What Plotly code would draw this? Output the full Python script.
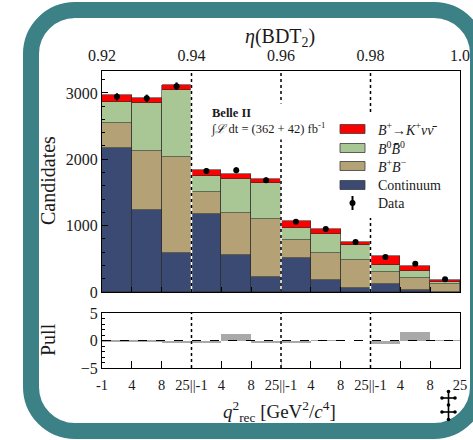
import numpy as np
import plotly.graph_objects as go

# ---------------- data ----------------
bin_edges_labels = ["-1", "4", "8", "25||-1", "4", "8", "25||-1", "4", "8", "25||-1", "4", "8", "25"]
eta_ticks = [0.92, 0.94, 0.96, 0.98, 1.0]
eta_ticktext = ["0.92", "0.94", "0.96", "0.98", "1.0"]

continuum = [2167, 1241, 588, 1181, 553, 226, 517, 176, 55, 120, 30, 3]
bpbm = [386, 886, 1448, 327, 634, 875, 263, 408, 428, 186, 177, 113]
b0b0 = [317, 728, 1011, 242, 513, 539, 190, 296, 226, 101, 110, 39]
signal = [91, 75, 75, 95, 84, 64, 101, 75, 45, 136, 75, 26]
data = [2941, 2920, 3102, 1825, 1835, 1685, 1060, 950, 754, 528, 427, 191]
data_err = [54, 54, 56, 43, 43, 41, 33, 31, 27, 23, 21, 14]
pull = [-0.1, -0.1, -0.5, -0.5, 1.15, -0.4, -0.5, -0.05, 0.0, -0.7, 1.55, 0.05]

n_bins = len(data)
xc = np.arange(n_bins) + 0.5
edges = list(range(n_bins + 1))

C_SIG = "#ff0000"
C_B0 = "#a9c695"
C_BB = "#b4a276"
C_CONT = "#3b4a72"
TEAL = "#3b8186"
EDGE = "rgba(45,45,45,0.75)"

# ---------------- geometry helpers (pixel -> paper) ----------------
W, H = 473, 440
ML, MR, MT, MB = 102, 13, 71, 72
PW, PH = W - ML - MR, H - MT - MB


def px(x):
    return (x - ML) / PW


def py(y):
    return (H - MB - y) / PH


fig = go.Figure()

for name, vals, col in [("Continuum", continuum, C_CONT), ("BB", bpbm, C_BB),
                        ("B0B0", b0b0, C_B0), ("Signal", signal, C_SIG)]:
    fig.add_trace(go.Bar(x=xc, y=vals, width=1.0, marker=dict(color=col, line=dict(color=EDGE, width=0.8)),
                         xaxis="x", yaxis="y", name=name, hoverinfo="skip"))

fig.add_trace(go.Scatter(x=xc, y=data, mode="markers", xaxis="x", yaxis="y",
                         marker=dict(color="black", size=6),
                         error_y=dict(type="data", array=data_err, color="black", thickness=2, width=0),
                         name="Data"))

fig.add_trace(go.Bar(x=xc, y=pull, width=1.0, marker=dict(color="#a9a9a9", line=dict(width=0)),
                     xaxis="x2", yaxis="y2", name="Pull"))

# top eta axis holder (no visible marks)
fig.add_trace(go.Scatter(x=eta_ticks, y=[None] * len(eta_ticks), mode="markers", xaxis="x3", yaxis="y",
                         hoverinfo="skip", showlegend=False))

shapes = []
# dotted separators
for xv in [3, 6, 9]:
    for yr in ["y domain", "y2 domain"]:
        shapes.append(dict(type="line", xref="x", yref=yr, x0=xv, x1=xv, y0=0, y1=1,
                           line=dict(color="white", width=1.5), layer="above"))
        shapes.append(dict(type="line", xref="x", yref=yr, x0=xv, x1=xv, y0=0, y1=1,
                           line=dict(color="black", width=1.5, dash="dot"), layer="above"))
# dashed zero line in pull
shapes.append(dict(type="line", xref="x2", yref="y2", x0=0, x1=n_bins, y0=0, y1=0,
                   line=dict(color="black", width=1, dash="dash"), layer="above"))

# legend background
shapes.append(dict(type="rect", xref="paper", yref="paper", x0=px(338), x1=px(459.5), y0=py(218), y1=py(113),
                   fillcolor="white", line=dict(width=0), layer="above"))
legend_rows = [(129, C_SIG), (148, C_B0), (166, C_BB), (185, C_CONT)]
for yy, col in legend_rows:
    shapes.append(dict(type="rect", xref="paper", yref="paper", x0=px(340), x1=px(365), y0=py(yy + 4.5), y1=py(yy - 4.5),
                       fillcolor=col, line=dict(color="rgba(60,60,60,0.8)", width=1), layer="above"))
shapes.append(dict(type="line", xref="paper", yref="paper", x0=px(352.5), x1=px(352.5), y0=py(210), y1=py(196),
                   line=dict(color="black", width=2), layer="above"))
shapes.append(dict(type="circle", xref="paper", yref="paper", x0=px(349.5), x1=px(355.5), y0=py(206), y1=py(200),
                   fillcolor="black", line=dict(color="black", width=0), layer="above"))

# rounded teal frame
L, T, R, B, r = 31, 10, 478, 431, 44
k = 0.5523 * r


def P(x, y):
    return f"{px(x):.5f},{py(y):.5f}"


path = (f"M {P(L + r, T)} L {P(R - r, T)} C {P(R - r + k, T)} {P(R, T + r - k)} {P(R, T + r)} "
        f"L {P(R, B - r)} C {P(R, B - r + k)} {P(R - r + k, B)} {P(R - r, B)} "
        f"L {P(L + r, B)} C {P(L + r - k, B)} {P(L, B - r + k)} {P(L, B - r)} "
        f"L {P(L, T + r)} C {P(L, T + r - k)} {P(L + r - k, T)} {P(L + r, T)} Z")
shapes.append(dict(type="path", xref="paper", yref="paper", path=path,
                   line=dict(color=TEAL, width=16), fillcolor="rgba(0,0,0,0)", layer="below"))

# small logo at bottom right
lx = 448.5
shapes.append(dict(type="line", xref="paper", yref="paper", x0=px(lx), x1=px(lx), y0=py(391), y1=py(420),
                   line=dict(color="black", width=1.6), layer="above"))
for yy in [398, 412]:
    shapes.append(dict(type="line", xref="paper", yref="paper", x0=px(442), x1=px(455), y0=py(yy), y1=py(yy),
                       line=dict(color="black", width=1.6), layer="above"))
for (cx, cy) in [(lx, 391.5), (lx, 405), (lx, 419.5), (442, 398), (455, 398), (442, 412), (455, 412)]:
    shapes.append(dict(type="circle", xref="paper", yref="paper", x0=px(cx - 1.8), x1=px(cx + 1.8),
                       y0=py(cy + 1.8), y1=py(cy - 1.8), fillcolor="black", line=dict(width=0), layer="above"))

FONT = "Liberation Serif"
TXT = "#1a1a1a"
ann = []
ann.append(dict(xref="paper", yref="paper", x=px(208), y=py(103), xanchor="left", yanchor="top",
                text="<b>Belle II</b><br>∫<i>ℒ</i> dt = (362 + 42) fb<sup>-1</sup>", align="left",
                showarrow=False, bgcolor="white", borderpad=2, font=dict(family=FONT, size=12.5, color=TXT)))
legend_texts = ["<i>B</i><sup>+</sup>→<i>K</i><sup>+</sup><i>νν̄</i>",
                "<i>B</i><sup>0</sup><i>B̄</i><sup>0</sup>",
                "<i>B</i><sup>+</sup><i>B</i><sup>−</sup>",
                "Continuum", "Data"]
for t, yy in zip(legend_texts, [129, 148, 166, 185, 203]):
    ann.append(dict(xref="paper", yref="paper", x=px(376), y=py(yy), xanchor="left", yanchor="middle",
                    text=t, showarrow=False, font=dict(family=FONT, size=14, color=TXT)))
CEN = dict(xanchor="center", yanchor="middle", showarrow=False)
ann.append(dict(xref="paper", yref="paper", x=px(48), y=py(181), text="Candidates", textangle=-90,
                font=dict(family=FONT, size=20, color=TXT), **CEN))
ann.append(dict(xref="paper", yref="paper", x=px(48), y=py(340), text="Pull", textangle=-90,
                font=dict(family=FONT, size=20, color=TXT), **CEN))
ann.append(dict(xref="paper", yref="paper", x=px(280), y=py(38), text="<i>η</i>(BDT<sub>2</sub>)",
                font=dict(family=FONT, size=20, color=TXT), **CEN))
ann.append(dict(xref="paper", yref="paper", x=px(279), y=py(411),
                text="<i>q</i><sup>2</sup><sub>rec</sub> [GeV<sup>2</sup>/<i>c</i><sup>4</sup>]",
                font=dict(family=FONT, size=19, color=TXT), **CEN))

tickfont = dict(family=FONT, size=16, color=TXT)
axis_common = dict(showline=True, linecolor="black", linewidth=1, mirror=True, showgrid=False, zeroline=False,
                   automargin=False)

fig.update_layout(
    width=W, height=H, margin=dict(l=ML, r=MR, t=MT, b=MB, autoexpand=False),
    paper_bgcolor="white", plot_bgcolor="white", showlegend=False,
    barmode="stack", bargap=0,
    font=dict(family=FONT, color=TXT),
    xaxis=dict(domain=[0, 1], range=[0, n_bins], anchor="y", tickvals=edges, ticks="inside", ticklen=5,
               tickcolor="black", showticklabels=False, **axis_common),
    yaxis=dict(domain=[py(292), 1], range=[0, 3330], anchor="x", tickvals=[0, 1000, 2000, 3000],
               ticks="inside", ticklen=6, tickcolor="black", tickfont=tickfont, tickformat="d",
               minor=dict(dtick=200, tick0=0, ticks="inside", ticklen=3, tickcolor="black"), **axis_common),
    xaxis2=dict(domain=[0, 1], range=[0, n_bins], anchor="y2", tickvals=edges, ticktext=bin_edges_labels,
                ticks="inside", ticklen=7, tickcolor="black", tickfont=dict(family=FONT, size=14.5, color=TXT),
                ticklabelstandoff=4, **axis_common),
    yaxis2=dict(domain=[0, py(313)], range=[-5, 5], anchor="x2", tickvals=[-5, 0, 5], ticks="inside",
                ticklen=6, tickcolor="black", tickfont=tickfont,
                minor=dict(dtick=1, tick0=0, ticks="inside", ticklen=3, tickcolor="black"), **axis_common),
    xaxis3=dict(overlaying="x", side="top", anchor="y", range=[0.92, 1.0], tickvals=eta_ticks,
                ticktext=eta_ticktext, ticks="", showgrid=False, zeroline=False, showline=False,
                tickfont=tickfont, ticklabelstandoff=6, automargin=False),
    shapes=shapes, annotations=ann,
)

fig.write_html("out.html", config={"displayModeBar": False},
               post_script="document.body.style.margin='0px';document.body.style.padding='0px';")
